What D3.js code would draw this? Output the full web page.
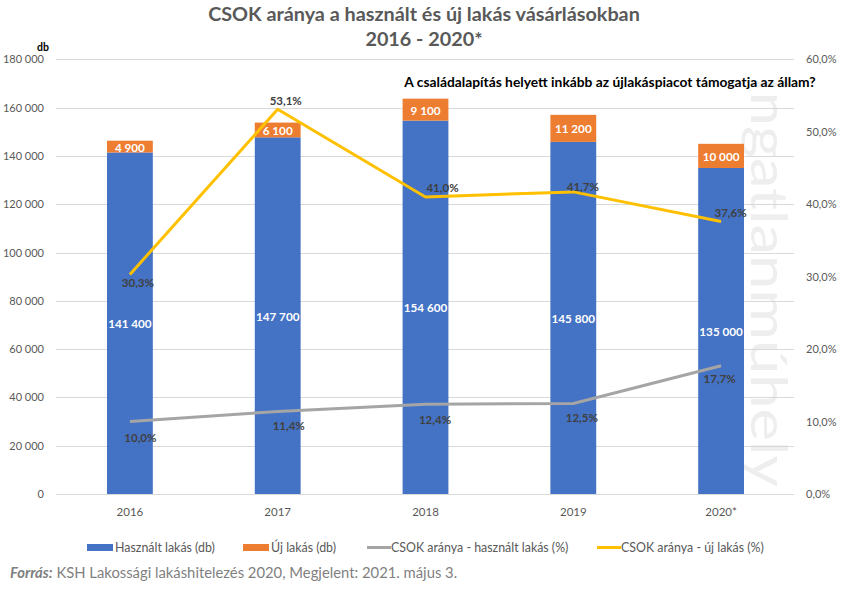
<!DOCTYPE html>
<html>
<head>
<meta charset="utf-8">
<script src="https://cdn.jsdelivr.net/npm/d3@7"></script>
<style>
  html, body { margin: 0; padding: 0; background: #fff; }
  svg { display: block; font-family: Lato, "Open Sans", sans-serif; }
</style>
</head>
<body>
<svg id="chart" width="848" height="589"></svg>
<script>
// ---- data ----
const years = ["2016", "2017", "2018", "2019", "2020*"];
const usedHomes = [141400, 147700, 154600, 145800, 135000];
const newHomes = [4900, 6100, 9100, 11200, 10000];
const csokUsedPct = [10.0, 11.4, 12.4, 12.5, 17.7];
const csokNewPct = [30.3, 53.1, 41.0, 41.7, 37.6];
const leftTicks = [0, 20000, 40000, 60000, 80000, 100000, 120000, 140000, 160000, 180000];
const rightTicks = [0, 10, 20, 30, 40, 50, 60];

// label offsets (style, relative to line point)
const newLabelOffsets = [[8, 8], [8, -8.5], [17, -9], [9.5, -5], [9.5, -9]];
const usedLabelOffsets = [[10.5, 16], [11, 14], [9.5, 15.5], [8.5, 14], [-1.5, 12.5]];

const C = { blue: "#4472C4", orange: "#ED7D31", grey: "#A5A5A5", yellow: "#FFC000",
            grid: "#D9D9D9", text: "#595959", dark: "#404040" };

const svg = d3.select("#chart");
const fmt = v => d3.format(",")(v).replace(/,/g, " ");
const pct = v => v.toFixed(1).replace(".", ",") + "%";

const plotL = 56, plotR = 795, plotT = 59.3, plotB = 494;
const x = d3.scaleBand().domain(years).range([plotL, plotR]).paddingInner(0.69).paddingOuter(0.345);
const yL = d3.scaleLinear().domain([0, 180000]).range([plotB, plotT]);
const yR = d3.scaleLinear().domain([0, 60]).range([plotB, plotT]);
const cx = d => x(d) + x.bandwidth() / 2;

// watermark
svg.append("text")
  .attr("transform", `translate(751,77) rotate(90)`)
  .attr("font-size", 50).attr("font-weight", 400)
  .attr("fill", "#EEEEEE")
  .attr("textLength", 410).attr("lengthAdjust", "spacingAndGlyphs")
  .text("ingatlanmúhely");

// gridlines
svg.append("g").selectAll("line").data(leftTicks).join("line")
  .attr("x1", plotL).attr("x2", plotR - 1)
  .attr("y1", d => Math.round(yL(d)) + 0.5).attr("y2", d => Math.round(yL(d)) + 0.5)
  .attr("stroke", C.grid).attr("stroke-width", 1);

// left axis
const axL = svg.append("g").attr("transform", `translate(${plotL},0)`)
  .call(d3.axisLeft(yL).tickValues(leftTicks).tickFormat(fmt).tickSize(0).tickPadding(12));
axL.select(".domain").remove();
axL.selectAll("text").attr("font-family", "Lato").attr("font-size", 11).attr("fill", C.text);

// right axis
const axR = svg.append("g").attr("transform", `translate(${plotR},0)`)
  .call(d3.axisRight(yR).tickValues(rightTicks).tickFormat(v => v.toFixed(1).replace(".", ",") + "%").tickSize(0).tickPadding(11));
axR.select(".domain").remove();
axR.selectAll("text").attr("font-family", "Lato").attr("font-size", 11).attr("fill", C.text);

// x axis
const axB = svg.append("g").attr("transform", `translate(0,${plotB})`)
  .call(d3.axisBottom(x).tickSize(0).tickPadding(14));
axB.select(".domain").remove();
axB.selectAll("text").attr("font-family", "Lato").attr("font-size", 11.5).attr("fill", C.text);

// bars
const bars = svg.append("g");
bars.selectAll("rect.used").data(years).join("rect").attr("class", "used")
  .attr("x", d => x(d)).attr("width", x.bandwidth())
  .attr("y", (d, i) => yL(usedHomes[i])).attr("height", (d, i) => yL(0) - yL(usedHomes[i]))
  .attr("fill", C.blue);
bars.selectAll("rect.new").data(years).join("rect").attr("class", "new")
  .attr("x", d => x(d)).attr("width", x.bandwidth())
  .attr("y", (d, i) => yL(usedHomes[i] + newHomes[i]))
  .attr("height", (d, i) => yL(usedHomes[i]) - yL(usedHomes[i] + newHomes[i]))
  .attr("fill", C.orange);

// bar labels
bars.selectAll("text.ul").data(years).join("text").attr("class", "ul")
  .attr("x", d => cx(d)).attr("y", (d, i) => yL(usedHomes[i] / 2))
  .attr("text-anchor", "middle").attr("dominant-baseline", "central")
  .attr("font-size", 11.7).attr("font-weight", 700).attr("fill", "#fff")
  .text((d, i) => fmt(usedHomes[i]));
bars.selectAll("text.nl").data(years).join("text").attr("class", "nl")
  .attr("x", d => cx(d)).attr("y", (d, i) => yL(usedHomes[i] + newHomes[i] / 2))
  .attr("text-anchor", "middle").attr("dominant-baseline", "central")
  .attr("font-size", 11.7).attr("font-weight", 700).attr("fill", "#fff")
  .text((d, i) => fmt(newHomes[i]));

// lines
const line = d3.line().x(d => cx(d[0])).y(d => yR(d[1]));
svg.append("path").datum(years.map((d, i) => [d, csokUsedPct[i]]))
  .attr("d", line).attr("fill", "none").attr("stroke", C.grey).attr("stroke-width", 3)
  .attr("stroke-linejoin", "round");
svg.append("path").datum(years.map((d, i) => [d, csokNewPct[i]]))
  .attr("d", line).attr("fill", "none").attr("stroke", C.yellow).attr("stroke-width", 3)
  .attr("stroke-linejoin", "round");

// line labels
svg.append("g").selectAll("text").data(years).join("text")
  .attr("x", (d, i) => cx(d) + usedLabelOffsets[i][0])
  .attr("y", (d, i) => yR(csokUsedPct[i]) + usedLabelOffsets[i][1])
  .attr("text-anchor", "middle").attr("dominant-baseline", "central")
  .attr("font-size", 11.5).attr("font-weight", 700).attr("fill", C.dark)
  .text((d, i) => pct(csokUsedPct[i]));
svg.append("g").selectAll("text").data(years).join("text")
  .attr("x", (d, i) => cx(d) + newLabelOffsets[i][0])
  .attr("y", (d, i) => yR(csokNewPct[i]) + newLabelOffsets[i][1])
  .attr("text-anchor", "middle").attr("dominant-baseline", "central")
  .attr("font-size", 11.5).attr("font-weight", 700).attr("fill", C.dark)
  .text((d, i) => pct(csokNewPct[i]));

// titles
svg.append("text").attr("x", 424).attr("y", 21).attr("text-anchor", "middle")
  .attr("font-size", 19.8).attr("font-weight", 700).attr("fill", C.text)
  .text("CSOK aránya a használt és új lakás vásárlásokban");
svg.append("text").attr("x", 424).attr("y", 46).attr("text-anchor", "middle")
  .attr("font-size", 19.8).attr("font-weight", 700).attr("fill", C.text)
  .text("2016 - 2020*");
svg.append("text").attr("x", 610).attr("y", 87).attr("text-anchor", "middle")
  .attr("font-size", 13.8).attr("font-weight", 700).attr("fill", "#000")
  .text("A családalapítás helyett inkább az újlakáspiacot támogatja az állam?");
svg.append("text").attr("x", 43).attr("y", 51).attr("text-anchor", "middle")
  .attr("font-size", 10.5).attr("font-weight", 700).attr("fill", "#000").text("db");

// legend
const legendItems = [
  { label: "Használt lakás (db)", color: C.blue, type: "rect", x: 87 },
  { label: "Új lakás (db)", color: C.orange, type: "rect", x: 243 },
  { label: "CSOK aránya - használt lakás (%)", color: C.grey, type: "line", x: 367 },
  { label: "CSOK aránya - új lakás (%)", color: C.yellow, type: "line", x: 597 }
];
const lg = svg.append("g").selectAll("g").data(legendItems).join("g")
  .attr("transform", d => `translate(${d.x},547.5)`);
lg.filter(d => d.type === "rect").append("rect")
  .attr("x", 0).attr("y", -3.5).attr("width", 26).attr("height", 7).attr("fill", d => d.color);
lg.filter(d => d.type === "line").append("line")
  .attr("x1", 0).attr("x2", 24).attr("y1", 0).attr("y2", 0)
  .attr("stroke", d => d.color).attr("stroke-width", 3);
lg.append("text").attr("x", d => d.type === "rect" ? 28 : 24).attr("y", 0)
  .attr("dominant-baseline", "central").attr("font-size", 12.4).attr("fill", C.text)
  .text(d => d.label);

// source
const src = svg.append("text").attr("x", 10).attr("y", 578).attr("font-size", 14.8).attr("fill", "#7F7F7F");
src.append("tspan").attr("font-weight", 700).attr("font-style", "italic").text("Forrás:");
src.append("tspan").text(" KSH Lakossági lakáshitelezés 2020, Megjelent: 2021. május 3.");
</script>
</body>
</html>
